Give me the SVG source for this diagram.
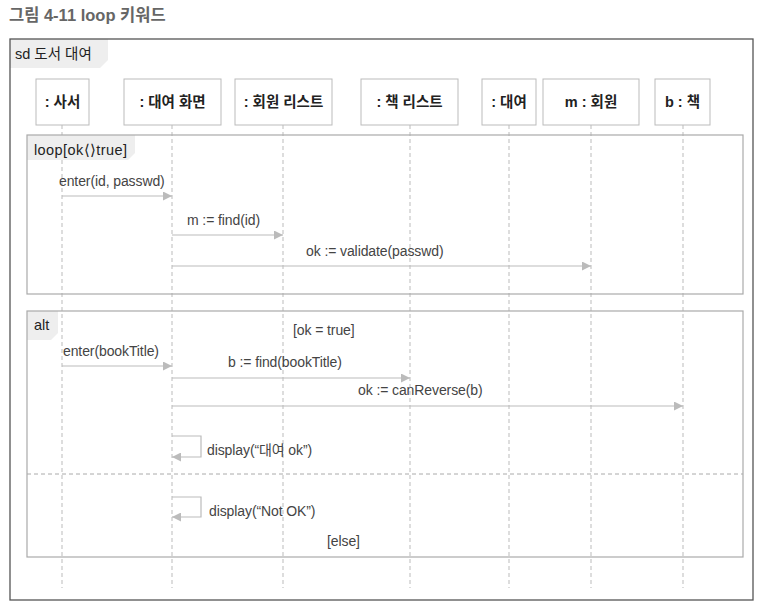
<svg xmlns="http://www.w3.org/2000/svg" width="764" height="607" viewBox="0 0 764 607">
<style>
text{font-family:"Liberation Sans","Noto Sans CJK KR",sans-serif;fill:#333;}
.title{font-size:16.5px;font-weight:bold;fill:#666;}
.lbl{font-size:14.5px;font-weight:bold;fill:#222;text-anchor:middle;}
.msg{font-size:14px;letter-spacing:-0.1px;fill:#444;}
.tab{font-size:14.5px;fill:#222;}
.tabbg{fill:#eeeeee;stroke:none;}
.box{fill:#fff;stroke:#bbb;stroke-width:1;}
.frag{fill:none;stroke:#aaa;stroke-width:1.2;}
.life{stroke:#bbb;stroke-width:1;stroke-dasharray:4,3;fill:none;}
.arr{stroke:#bbb;stroke-width:1.2;fill:none;marker-end:url(#ah);}
</style>
<defs>
<marker id="ah" viewBox="0 0 10 10" refX="10" refY="5" markerWidth="10" markerHeight="9" markerUnits="userSpaceOnUse" orient="auto">
<path d="M0,0 L10,5 L0,10 Z" fill="#bbb"/>
</marker>
</defs>
<rect width="764" height="607" fill="#fff"/>
<text class="title" x="9" y="21">그림 4-11 loop 키워드</text>

<g id="frame">
<path class="tabbg" d="M10,39 H108 V60 L100,68 H10 Z"/>
<rect x="10" y="39" width="743" height="561" fill="none" stroke="#555" stroke-width="1.3"/>
<text class="tab" x="15" y="59">sd 도서 대여</text>
</g>

<g id="lifelines">
<line class="life" x1="62" y1="125" x2="62" y2="588"/>
<line class="life" x1="172" y1="125" x2="172" y2="588"/>
<line class="life" x1="283" y1="125" x2="283" y2="588"/>
<line class="life" x1="410" y1="125" x2="410" y2="588"/>
<line class="life" x1="509" y1="125" x2="509" y2="588"/>
<line class="life" x1="591" y1="125" x2="591" y2="588"/>
<line class="life" x1="683" y1="125" x2="683" y2="588"/>
</g>

<g id="n-librarian"><rect class="box" x="36" y="79" width="53" height="46"/><text class="lbl" x="62.5" y="107">: 사서</text></g>
<g id="n-rentscreen"><rect class="box" x="124" y="79" width="97" height="46"/><text class="lbl" x="172.5" y="107">: 대여 화면</text></g>
<g id="n-memberlist"><rect class="box" x="235" y="79" width="97" height="46"/><text class="lbl" x="283.5" y="107">: 회원 리스트</text></g>
<g id="n-booklist"><rect class="box" x="361" y="79" width="97" height="46"/><text class="lbl" x="409.5" y="107">: 책 리스트</text></g>
<g id="n-rent"><rect class="box" x="482" y="79" width="54" height="46"/><text class="lbl" x="509" y="107">: 대여</text></g>
<g id="n-member"><rect class="box" x="543" y="79" width="96" height="46"/><text class="lbl" x="591" y="107">m : 회원</text></g>
<g id="n-book"><rect class="box" x="655" y="79" width="55" height="46"/><text class="lbl" x="682.5" y="107">b : 책</text></g>

<g id="loop">
<path class="tabbg" d="M27,135 H135 V153 L128,160 H27 Z"/>
<rect class="frag" x="27" y="135" width="716" height="159"/>
<text class="tab" x="34" y="155" letter-spacing="0.4">loop[ok⟨⟩true]</text>
</g>

<g id="alt">
<path class="tabbg" d="M27,311 H58 V333 L51,340 H27 Z"/>
<rect class="frag" x="27" y="311" width="716" height="246"/>
<line x1="27" y1="474" x2="743" y2="474" stroke="#aaa" stroke-width="1" stroke-dasharray="4,3"/>
<text class="tab" x="34" y="330">alt</text>
<text class="msg" x="293" y="335">[ok = true]</text>
<text class="msg" x="327" y="546">[else]</text>
</g>

<g id="connectors">
<line class="arr" x1="62" y1="196" x2="172" y2="196"/>
<line class="arr" x1="172" y1="235" x2="283" y2="235"/>
<line class="arr" x1="172" y1="266" x2="591" y2="266"/>
<line class="arr" x1="62" y1="366" x2="172" y2="366"/>
<line class="arr" x1="172" y1="378" x2="410" y2="378"/>
<line class="arr" x1="172" y1="406" x2="683" y2="406"/>
<path class="arr" d="M172,436 H201 V457 H172"/>
<path class="arr" d="M172,497 H201 V517 H172"/>
</g>

<g id="messages">
<text class="msg" x="59" y="186">enter(id, passwd)</text>
<text class="msg" x="187" y="225">m := find(id)</text>
<text class="msg" x="306" y="256">ok := validate(passwd)</text>
<text class="msg" x="63" y="356">enter(bookTitle)</text>
<text class="msg" x="228" y="367">b := find(bookTitle)</text>
<text class="msg" x="358" y="395">ok := canReverse(b)</text>
<text class="msg" x="207" y="455">display(“대여 ok”)</text>
<text class="msg" x="209" y="516">display(“Not OK”)</text>
</g>
</svg>
